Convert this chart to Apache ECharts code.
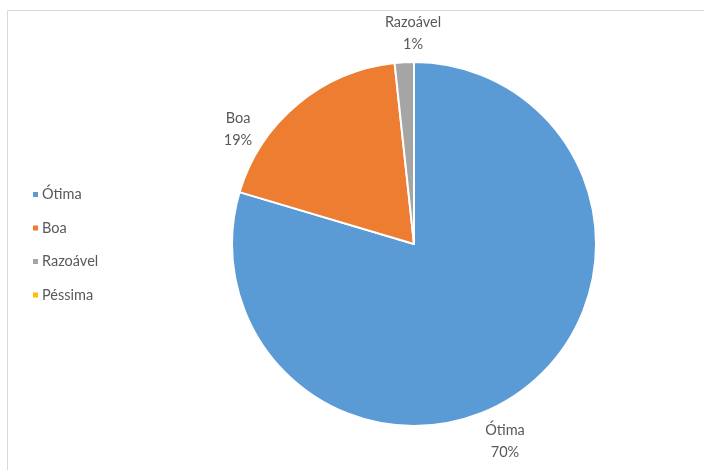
<!DOCTYPE html>
<html><head><meta charset="utf-8">
<script src="https://cdn.jsdelivr.net/npm/echarts@6/dist/echarts.min.js"></script>
<style>html,body{margin:0;padding:0;background:#fff}#c{width:704px;height:470px}</style>
</head><body><div id="c"></div>
<script>
const categories = ['Ótima', 'Boa', 'Razoável', 'Péssima'];
const shares = [79.6, 18.7, 1.7, 0];
const pctLabels = ['70%', '19%', '1%', '0%'];
const colors = ['#5B9BD5', '#ED7D31', '#A5A5A5', '#FFC000'];

const chart = echarts.init(document.getElementById('c'), null, {renderer: 'canvas'});
const FONT = 'Lato';
const labelAt = [[505, 441], [238, 129], [413, 33], [0, 0]];
chart.setOption({
  animation: false,
  color: colors,
  graphic: [{
    type: 'rect', silent: true,
    shape: {x: 7.5, y: 10.5, width: 720, height: 480},
    style: {fill: 'none', stroke: '#d9d9d9', lineWidth: 1}
  }],
  legend: {
    orient: 'vertical', left: 26, top: 182,
    icon: 'rect', itemWidth: 7, itemHeight: 7, itemGap: 18.5,
    data: categories,
    textStyle: {color: '#595959', fontFamily: FONT, fontSize: 14.5, padding: [0, 0, 0, -2]}
  },
  series: [{
    type: 'pie',
    center: [414, 244], radius: 182,
    startAngle: 90, clockwise: true,
    itemStyle: {borderColor: '#fff', borderWidth: 2},
    label: {
      show: true, position: 'outside',
      color: '#595959', fontFamily: FONT, fontSize: 14.5, lineHeight: 22,
      align: 'center',
      formatter: p => p.name + '\n' + pctLabels[p.dataIndex]
    },
    labelLine: {show: false, length: 8, length2: 0},
    labelLayout: p => ({x: labelAt[p.dataIndex][0], y: labelAt[p.dataIndex][1], align: 'center', verticalAlign: 'middle'}),
    data: categories.map((n, i) => ({
      name: n, value: shares[i],
      label: shares[i] === 0 ? {show: false} : undefined
    }))
  }]
});
</script></body></html>
